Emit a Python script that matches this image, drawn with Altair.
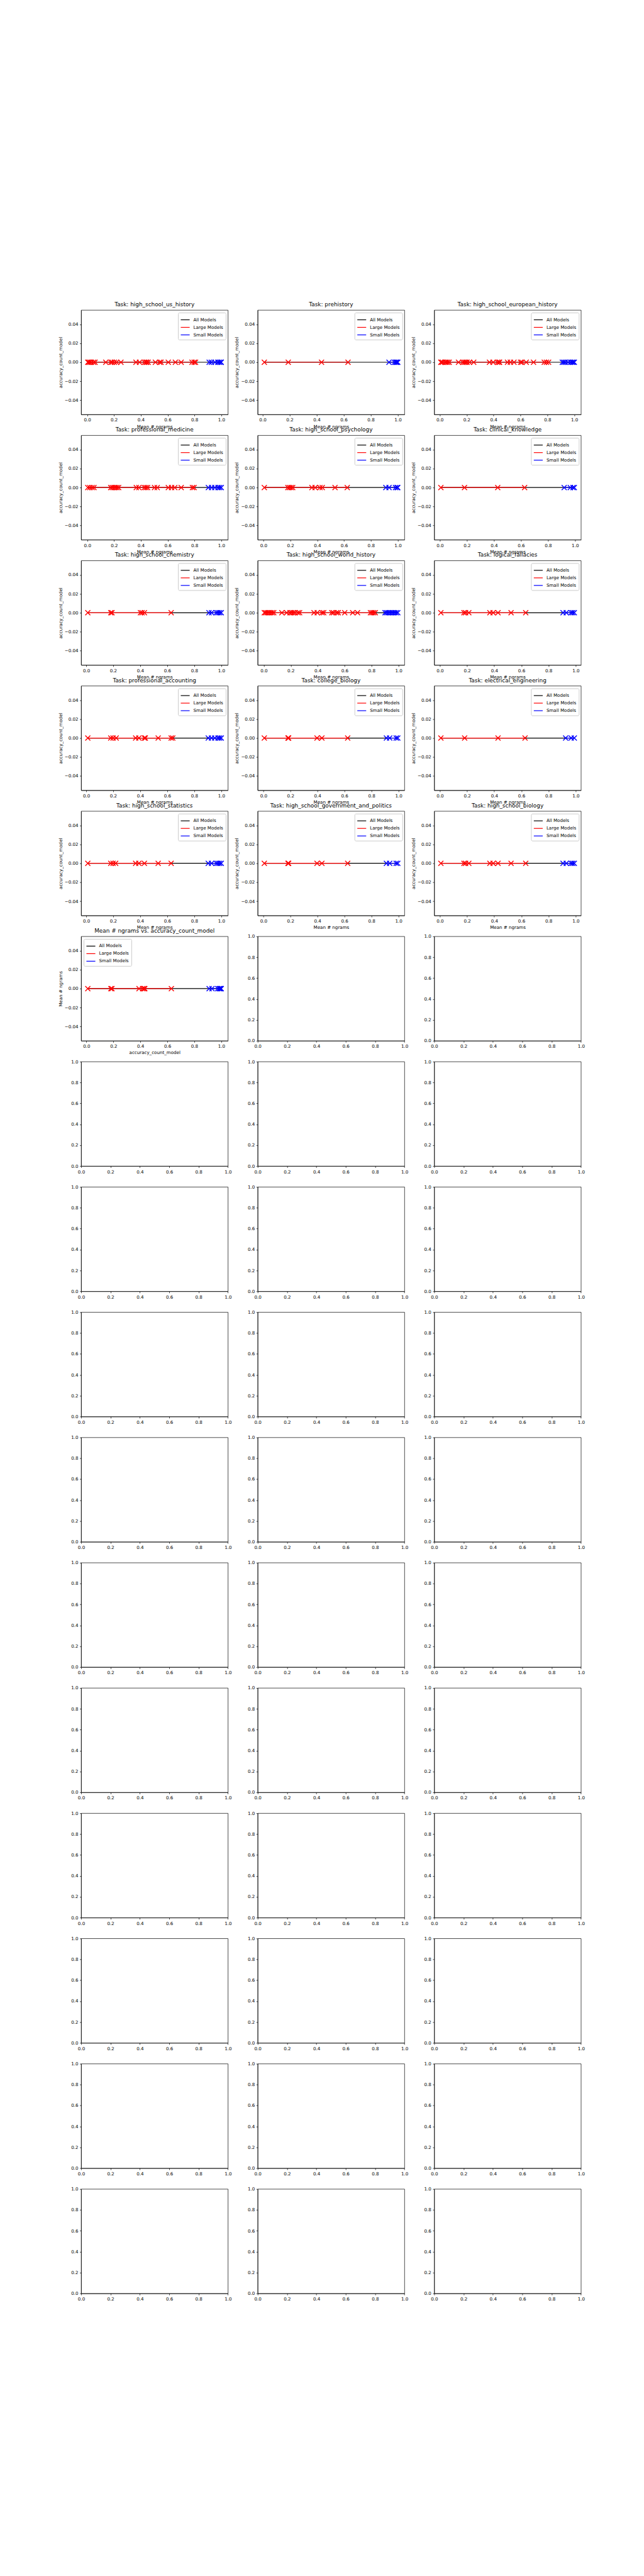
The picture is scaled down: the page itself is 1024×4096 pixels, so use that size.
import altair as alt
import pandas as pd

# ---------------- data ----------------
TITLES = [
    "Task: high_school_us_history", "Task: prehistory", "Task: high_school_european_history",
    "Task: professional_medicine", "Task: high_school_psychology", "Task: clinical_knowledge",
    "Task: high_school_chemistry", "Task: high_school_world_history", "Task: logical_fallacies",
    "Task: professional_accounting", "Task: college_biology", "Task: electrical_engineering",
    "Task: high_school_statistics", "Task: high_school_government_and_politics", "Task: high_school_biology",
    "Mean # ngrams vs. accuracy_count_model",
]

LARGE_X = [
    [0.005, 0.011, 0.021, 0.032, 0.048, 0.059, 0.139, 0.177, 0.187, 0.203, 0.219, 0.252, 0.364, 0.391,
     0.428, 0.439, 0.444, 0.455, 0.509, 0.541, 0.551, 0.605, 0.658, 0.701, 0.782, 0.798, 0.808],
    [0.013, 0.19, 0.436, 0.632],
    [0.009, 0.012, 0.022, 0.039, 0.049, 0.06, 0.071, 0.14, 0.172, 0.183, 0.194, 0.204, 0.221, 0.253,
     0.37, 0.397, 0.429, 0.44, 0.445, 0.504, 0.525, 0.552, 0.601, 0.611, 0.643, 0.697, 0.777, 0.793, 0.809],
    [0.004, 0.019, 0.036, 0.05, 0.175, 0.187, 0.199, 0.211, 0.222, 0.234, 0.366, 0.385, 0.426, 0.438,
     0.45, 0.502, 0.522, 0.605, 0.629, 0.653, 0.701, 0.785, 0.797],
    [0.007, 0.182, 0.194, 0.206, 0.218, 0.361, 0.385, 0.421, 0.438, 0.533, 0.624],
    [0.007, 0.182, 0.428, 0.627],
    [0.012, 0.182, 0.191, 0.402, 0.414, 0.431, 0.629],
    [0.004, 0.014, 0.026, 0.038, 0.05, 0.062, 0.074, 0.134, 0.17, 0.194, 0.206, 0.218, 0.23, 0.254,
     0.266, 0.373, 0.397, 0.433, 0.445, 0.505, 0.517, 0.541, 0.553, 0.601, 0.66, 0.696, 0.792, 0.804,
     0.816, 0.828],
    [0.007, 0.177, 0.189, 0.213, 0.368, 0.392, 0.428, 0.524, 0.632],
    [0.012, 0.182, 0.199, 0.222, 0.366, 0.39, 0.431, 0.438, 0.533, 0.629, 0.641],
    [0.007, 0.182, 0.187, 0.397, 0.433, 0.624],
    [0.007, 0.182, 0.428, 0.627],
    [0.012, 0.182, 0.199, 0.218, 0.366, 0.39, 0.431, 0.533, 0.629],
    [0.007, 0.182, 0.187, 0.397, 0.433, 0.624],
    [0.007, 0.177, 0.189, 0.213, 0.368, 0.392, 0.428, 0.524, 0.632],
    [0.01, 0.181, 0.189, 0.39, 0.417, 0.427, 0.433, 0.63],
]

SMALL_X = [
    [0.910, 0.926, 0.953, 0.974, 0.985, 0.996, 1.0],
    [0.935, 0.975, 0.985, 0.99, 0.995, 1.0],
    [0.911, 0.922, 0.933, 0.954, 0.972, 0.983, 0.992, 1.0],
    [0.904, 0.928, 0.952, 0.976, 0.988, 1.0],
    [0.911, 0.935, 0.983, 0.995, 1.0],
    [0.92, 0.965, 0.985, 0.995],
    [0.909, 0.928, 0.964, 0.976, 0.988, 1.0],
    [0.9, 0.911, 0.923, 0.935, 0.947, 0.959, 0.971, 0.983, 0.995],
    [0.907, 0.931, 0.967, 0.978, 0.99],
    [0.904, 0.928, 0.952, 0.976, 0.988, 1.0],
    [0.911, 0.935, 0.983, 0.995],
    [0.926, 0.967, 0.99],
    [0.904, 0.928, 0.964, 0.976, 0.988, 1.0],
    [0.911, 0.935, 0.983, 0.995],
    [0.907, 0.931, 0.967, 0.978, 0.99],
    [0.91, 0.931, 0.974, 0.985, 0.99, 0.995, 1.0],
]

ACCURACY = 0.0          # every point sits at 0.00 in the reference
GROUPS = ["All Models", "Large Models", "Small Models"]
COLORS = ["black", "red", "blue"]
X_TICKS = [0.0, 0.2, 0.4, 0.6, 0.8, 1.0]
Y_TICKS = [-0.04, -0.02, 0.0, 0.02, 0.04]
N_ROWS, N_COLS = 16, 3

# ---------------- style (0.512 of the reference) ----------------
S = 0.512
FONT = "DejaVu Sans"
PW, PH = 455.9 * S, 324.2 * S
FS = 13.9 * S
XPATH = "M -1 -1 L 1 1 M -1 1 L 1 -1"

color_scale = alt.Scale(domain=GROUPS, range=COLORS)


def axis(title, values, fmt):
    return alt.Axis(title=title, values=values, format=fmt, grid=False, labelFlush=False,
                    labelOverlap=False, titlePadding=3.0)


def data_panel(i):
    lx, sx = LARGE_X[i], SMALL_X[i]
    allx = sorted(lx + sx)
    lines = pd.concat([
        pd.DataFrame({"x": allx, "y": [ACCURACY] * len(allx), "grp": "All Models"}),
        pd.DataFrame({"x": lx, "y": [ACCURACY] * len(lx), "grp": "Large Models"}),
        pd.DataFrame({"x": sx, "y": [ACCURACY] * len(sx), "grp": "Small Models"}),
    ], ignore_index=True)
    pts = lines[lines["grp"] != "All Models"]
    lo, hi = min(allx), max(allx)
    m = 0.05 * (hi - lo)
    last = i == len(TITLES) - 1
    xt = "accuracy_count_model" if last else "Mean # ngrams"
    yt = "Mean # ngrams" if last else "accuracy_count_model"
    xenc = alt.X("x:Q", scale=alt.Scale(domain=[lo - m, hi + m], nice=False, zero=False),
                 axis=axis(xt, X_TICKS, ".1f"))
    yenc = alt.Y("y:Q", scale=alt.Scale(domain=[-0.055, 0.055], nice=False, zero=False),
                 axis=axis(yt, Y_TICKS, ".2f"))
    legend = alt.Legend(title=None, orient="top-left" if last else "top-right",
                        symbolType="stroke", symbolSize=200, symbolStrokeWidth=1.2,
                        labelFont=FONT, labelFontSize=FS, labelColor="black", labelOffset=5,
                        strokeColor="#cccccc", fillColor="white", padding=3.5, cornerRadius=2,
                        offset=3.6, rowPadding=0)
    line = alt.Chart(lines).mark_line(strokeWidth=1.2).encode(
        x=xenc, y=yenc, color=alt.Color("grp:N", scale=color_scale, legend=legend),
        order="x:Q")
    marks = alt.Chart(pts).mark_point(shape=XPATH, filled=False, size=64, strokeWidth=1.4,
                                      opacity=1).encode(
        x=xenc, y=yenc, color=alt.Color("grp:N", scale=color_scale, legend=None))
    return alt.layer(line, marks).properties(
        width=PW, height=PH,
        title=alt.TitleParams(TITLES[i], fontSize=17.4 * S, font=FONT, fontWeight="normal",
                              color="black", offset=4, anchor="middle"))


def empty_panel():
    d = pd.DataFrame({"x": [0.0], "y": [0.0]})
    return alt.Chart(d).mark_point(opacity=0).encode(
        x=alt.X("x:Q", scale=alt.Scale(domain=[0, 1], nice=False), axis=axis(None, X_TICKS, ".1f")),
        y=alt.Y("y:Q", scale=alt.Scale(domain=[0, 1], nice=False), axis=axis(None, X_TICKS, ".1f")),
    ).properties(width=PW, height=PH)


panels = [data_panel(i) for i in range(len(TITLES))]
panels += [empty_panel() for _ in range(N_ROWS * N_COLS - len(TITLES))]

chart = alt.concat(*panels, columns=N_COLS, spacing={"row": 64.8 * S, "column": 91.2 * S},
                   bounds="flush").resolve_scale(color="independent").properties(
    padding={"left": 83, "top": 471, "right": 5, "bottom": 5},
    background="white",
).configure_view(stroke="black", strokeWidth=0.7).configure_axis(
    labelFont=FONT, labelFontSize=FS, labelColor="black", titleFont=FONT, titleFontSize=FS,
    titleFontWeight="normal", titleColor="black", tickColor="black", domainColor="black",
    tickSize=2.5, tickWidth=0.7, domainWidth=0.7, labelPadding=2.5,
)

chart.save("out.html", embed_options={"renderer": "svg", "actions": False})
